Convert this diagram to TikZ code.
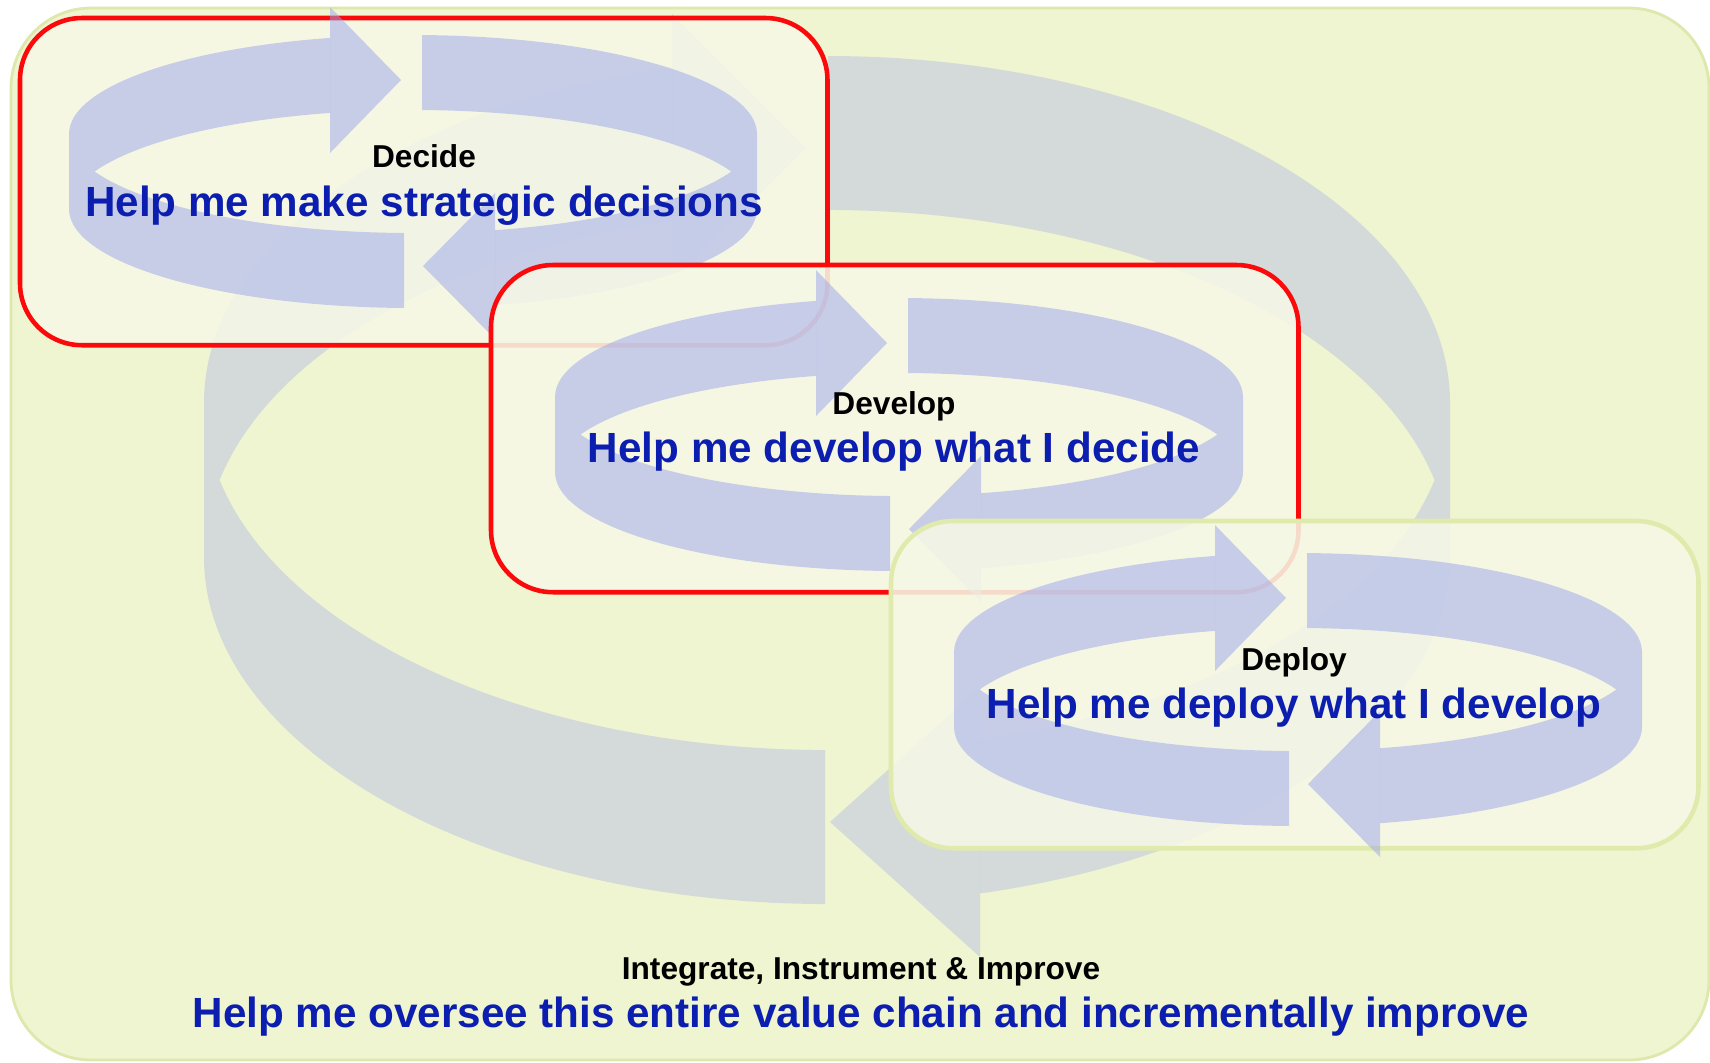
\documentclass[tikz,border=0pt]{standalone}
\usepackage{fontspec}
\setmainfont{Liberation Sans}

\definecolor{bggreen}{RGB}{239,244,209}
\definecolor{bgline}{RGB}{222,232,172}
\definecolor{boxfill}{RGB}{246,248,230}
\definecolor{stagered}{RGB}{250,10,10}
\definecolor{deploygreen}{RGB}{224,234,172}
\definecolor{ribbonblue}{RGB}{155,165,235}
\definecolor{askblue}{RGB}{12,30,176}

\begin{document}
\begin{tikzpicture}[x=0.01cm, y=-0.01cm,
    ribbon/.style={fill=ribbonblue, fill opacity=0.5, even odd rule},
    bigribbon/.style={fill=ribbonblue, fill opacity=0.32, even odd rule},
    stagebox/.style={rectangle, rounded corners=0.62cm, line width=1.3pt,
      fill=boxfill, fill opacity=0.88, minimum width=8.07cm, minimum height=3.27cm,
      inner sep=0pt, outer sep=0pt, anchor=north west},
    tag/.style={anchor=base, font=\fontsize{9}{11}\selectfont\bfseries},
    ask/.style={anchor=base, text=askblue, font=\fontsize{12}{14}\selectfont\bfseries}]

  \useasboundingbox (0,0) rectangle (1710,1062);
  \draw[draw=bgline, fill=bggreen, line width=0.8pt, rounded corners=0.8cm] (11,8) rectangle (1709,1060);

  % big cycle behind everything
  \begin{scope}
    \clip[rounded corners=0.8cm] (11,8) rectangle (1709,1060);
    \begin{scope}
      \clip (150,0) -- (672,0) -- (672,480) -- (825,480) -- (825,1062) -- (150,1062) -- cycle
            (828,0) -- (1500,0) -- (1500,1062) -- (980,1062) -- (980,480) -- (828,480) -- cycle;
      \fill[bigribbon] (204,403) arc[start angle=180, end angle=360, x radius=623, y radius=347]
          -- (1450,557) arc[start angle=0, end angle=180, x radius=623, y radius=347] -- cycle
          (1434.5,480) arc[start angle=12.82, end angle=167.18, x radius=623, y radius=347]
          arc[start angle=192.82, end angle=347.18, x radius=623, y radius=347] -- cycle;
    \end{scope}
    \fill[bigribbon] (672,14) -- (806,148) -- (672,282) -- cycle;
    \fill[bigribbon] (980,687) -- (830,822) -- (980,957) -- cycle;
  \end{scope}

  % the three stages, each with its own small cycle
  \foreach \name/\bx/\by/\bcol/\cx/\cy in {decide/20/18/stagered/413/134,
      develop/491/265/stagered/899/397, deploy/891/521/deploygreen/1298/652} {
    \node[stagebox, draw=\bcol] (\name) at (\bx,\by) {};
    \begin{scope}
      \clip (\cx-360,\cy-140) -- (\cx-83,\cy-140) -- (\cx-83,\cy+37) -- (\cx-9,\cy+37)
            -- (\cx-9,\cy+220) -- (\cx-360,\cy+220) -- cycle
            (\cx+9,\cy-140) -- (\cx+360,\cy-140) -- (\cx+360,\cy+220) -- (\cx+82,\cy+220)
            -- (\cx+82,\cy+37) -- (\cx+9,\cy+37) -- cycle;
      \fill[ribbon] (\cx-344,\cy) arc[start angle=180, end angle=360, x radius=344, y radius=99]
          -- (\cx+344,\cy+75) arc[start angle=0, end angle=180, x radius=344, y radius=99] -- cycle
          (\cx+318.3,\cy+37.5) arc[start angle=22.26, end angle=157.74, x radius=344, y radius=99]
          arc[start angle=202.26, end angle=337.74, x radius=344, y radius=99] -- cycle;
    \end{scope}
    \fill[ribbon] (\cx-83,\cy-127) -- (\cx-12,\cy-54) -- (\cx-83,\cy+19) -- cycle;
    \fill[ribbon] (\cx+82,\cy+59) -- (\cx+10,\cy+132) -- (\cx+82,\cy+205) -- cycle;
  }

  \node[tag] (decideTag) at (424,167) {Decide};
  \node[ask] (decideAsk) at (424,216) {Help me make strategic decisions};
  \node[tag] (developTag) at (894,414) {Develop};
  \node[ask] (developAsk) at (894,462) {Help me develop what I decide};
  \node[tag] (deployTag) at (1294,670) {Deploy};
  \node[ask] (deployAsk) at (1294,718) {Help me deploy what I develop};
  \node[tag] (improveTag) at (861,979) {Integrate, Instrument \& Improve};
  \node[ask] (improveAsk) at (861,1027) {Help me oversee this entire value chain and incrementally improve};
\end{tikzpicture}
\end{document}
